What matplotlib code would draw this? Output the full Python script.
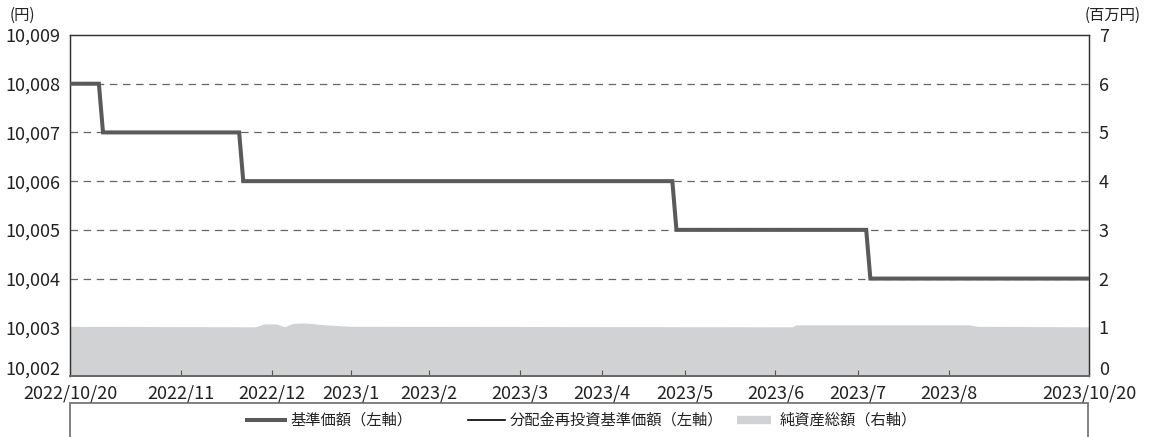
import pandas as pd
import numpy as np
import matplotlib
matplotlib.use("Agg")
import matplotlib.pyplot as plt
import matplotlib.transforms as mtransforms
from matplotlib.lines import Line2D
from matplotlib.patches import Rectangle
from matplotlib.ticker import FuncFormatter

plt.rcParams['font.family'] = ['Noto Sans CJK JP', 'DejaVu Sans']

# Japanese market holidays falling on weekdays in the period
holidays = ['2022-11-03', '2022-11-23', '2023-01-02', '2023-01-03', '2023-01-09',
            '2023-02-23', '2023-03-21', '2023-05-03', '2023-05-04', '2023-05-05',
            '2023-07-17', '2023-08-11', '2023-09-18', '2023-10-09']

# 基準価額 (yen), points where the level changes
price_dates = ['2022-10-20', '2022-10-31', '2022-11-01', '2022-12-20', '2022-12-21',
               '2023-05-26', '2023-05-29', '2023-08-02', '2023-08-03', '2023-10-20']
price_vals = [10008, 10008, 10007, 10007, 10006, 10006, 10005, 10005, 10004, 10004]

# 分配金再投資基準価額 (yen), no distributions so same path
reinv_dates = price_dates
reinv_vals = [10008, 10008, 10007, 10007, 10006, 10006, 10005, 10005, 10004, 10004]

# 純資産総額 (million yen)
na_dates = ['2022-10-20', '2022-12-26', '2022-12-28', '2023-01-04', '2023-01-06',
            '2023-01-11', '2023-01-16', '2023-01-23', '2023-01-31', '2023-07-06',
            '2023-07-07', '2023-09-07', '2023-09-11', '2023-10-20']
na_vals = [1.02, 1.01, 1.07, 1.07, 1.01, 1.08, 1.09, 1.05, 1.02, 1.01,
           1.05, 1.05, 1.02, 1.01]

# month-end tick dates and their labels
tick_dates = ['2022-11-30', '2022-12-30', '2023-01-31', '2023-02-28', '2023-03-31',
              '2023-04-28', '2023-05-31', '2023-06-30', '2023-07-31', '2023-08-31']
tick_labels = ['2022/11', '2022/12', '2023/1', '2023/2', '2023/3',
               '2023/4', '2023/5', '2023/6', '2023/7', '2023/8']
edge_labels = ['2022/10/20', '2023/10/20']

legend_labels = ['基準価額（左軸）', '分配金再投資基準価額（左軸）', '純資産総額（右軸）']

# business-day calendar used as the x axis
days = pd.bdate_range('2022-10-20', '2023-10-20', freq='C', holidays=holidays)


def pos(dates):
    return np.array([days.get_loc(pd.Timestamp(d)) for d in dates])


W, H = 1170, 437
fig = plt.figure(figsize=(W / 100, H / 100), dpi=100)
ax = fig.add_axes([70 / W, 1 - 376 / H, (1089 - 70) / W, (376 - 35) / H])
ax2 = ax.twinx()
ax.set_zorder(ax2.get_zorder() + 1)
ax.patch.set_visible(False)

fs = 13
gray_line = '#5a5a5a'
fill_col = '#d1d2d4'
txt = '#222'

# net assets area on the right axis
ax2.fill_between(pos(na_dates), 0, na_vals, color=fill_col, lw=0)
ax2.set_ylim(0, 7)
ax2.set_yticks(range(0, 8))
ax2.tick_params(axis='y', length=0, pad=7, labelsize=fs, colors=txt)

# dashed grid
for lvl in range(10004, 10009):
    ax.axhline(lvl, color='#666', lw=0.9, ls=(0, (6, 4.5)), zorder=1)

ax.plot(pos(reinv_dates), reinv_vals, color='black', lw=1.2, zorder=3)
ax.plot(pos(price_dates), price_vals, color=gray_line, lw=2.9, zorder=4,
        solid_joinstyle='miter')

ax.set_xlim(0, len(days) - 1)
ax.set_ylim(10002, 10009)
ax.set_yticks(range(10002, 10010))
ax.yaxis.set_major_formatter(FuncFormatter(lambda v, p: f'{int(v):,}'))
ax.tick_params(axis='y', length=0, pad=7, labelsize=fs, colors=txt)

ax.set_xticks(pos(tick_dates))
ax.set_xticklabels(tick_labels)
ax.set_xticks([0, len(days) - 1], minor=True)
ax.set_xticklabels(edge_labels, minor=True)
ax.tick_params(axis='x', which='major', direction='in', length=4, width=0.8,
               color='#555', pad=6, labelsize=fs, labelcolor=txt)
ax.tick_params(axis='x', which='minor', length=0, pad=6, labelsize=fs,
               labelcolor=txt)

# lift the bottom labels of both y axes clear of the date labels
lift = mtransforms.ScaledTranslation(0, 8 / 100, fig.dpi_scale_trans)
for a in (ax, ax2):
    lab = a.yaxis.get_major_ticks()[0]
    lab.label1.set_transform(lab.label1.get_transform() + lift)
    lab.label2.set_transform(lab.label2.get_transform() + lift)

for s in ['left', 'top', 'right']:
    ax.spines[s].set_color('#333')
    ax.spines[s].set_linewidth(0.9)
    ax2.spines[s].set_color('#333')
    ax2.spines[s].set_linewidth(0.9)
ax.spines['bottom'].set_color('#666')
ax.spines['bottom'].set_linewidth(1.4)
ax2.spines['bottom'].set_visible(False)

fig.text(10 / W, 1 - 15 / H, '(円)', fontsize=11, ha='left', va='center', color=txt)
fig.text(1085 / W, 1 - 15 / H, '(百万円)', fontsize=11, ha='left', va='center',
         color=txt)

# legend box running off the bottom edge
fig.add_artist(Rectangle((70 / W, -0.05), (1088 - 70) / W, 0.05 + (437 - 403) / H,
                         transform=fig.transFigure, fill=False, ec='#777', lw=1.3))

ly = 1 - 420 / H
handles = [
    ((247, 285), dict(color=gray_line, lw=2.9)),
    ((468, 505), dict(color='black', lw=1.2)),
    ((737, 771), dict(color=fill_col, lw=6, solid_capstyle='butt')),
]
text_x = [290, 510, 780]
for (x0, x1), kw in handles:
    fig.add_artist(Line2D([x0 / W, x1 / W], [ly, ly], transform=fig.transFigure, **kw))
for tx, lab in zip(text_x, legend_labels):
    fig.text(tx / W, ly, lab, fontsize=11, ha='left', va='center', color=txt)

fig.savefig('out.png', dpi=100)
